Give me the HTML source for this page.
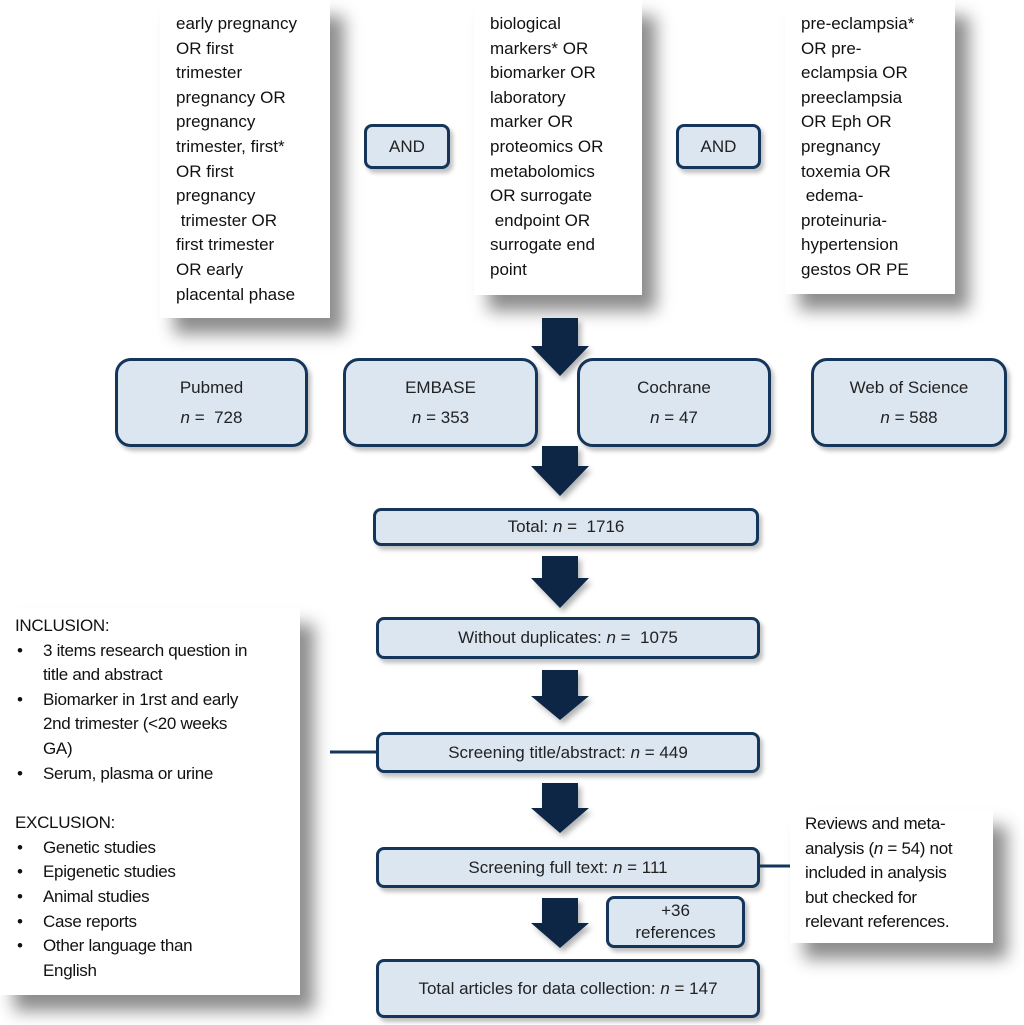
<!DOCTYPE html>
<html><head><style>
body{margin:0;width:1024px;height:1025px;background:#fff;position:relative;overflow:hidden;font-family:"Liberation Sans",sans-serif;color:#111}
.tb{position:absolute;background:#fff;box-shadow:14px 16px 16px rgba(0,0,0,0.45);font-size:17px;line-height:24.6px;white-space:pre;box-sizing:border-box}
.bx{position:absolute;background:#dce6f1;border:3px solid #14365a;box-sizing:border-box;display:flex;align-items:center;justify-content:center;text-align:center;font-size:17px;color:#222;box-shadow:3px 4px 4px rgba(0,0,0,0.25)}
.db{border-radius:16px;flex-direction:column;line-height:30px;font-size:17px}
.r{border-radius:8px}
svg{position:absolute;left:0;top:0}
.n{font-style:italic}
.cond{font-size:17px;letter-spacing:-0.3px;white-space:nowrap}
.cond div{min-height:24.7px}
.li{position:relative;padding-left:28px}
.li:before{content:"•";position:absolute;left:2px}
</style></head><body>
<div class="tb" style="left:160px;top:0;width:170px;height:318px;padding:12px 0 0 16px">early pregnancy
OR first
trimester
pregnancy OR
pregnancy
trimester, first*
OR first
pregnancy
 trimester OR
first trimester
OR early
placental phase</div>
<div class="tb" style="left:474px;top:0;width:168px;height:295px;padding:12px 0 0 16px">biological
markers* OR
biomarker OR
laboratory
marker OR
proteomics OR
metabolomics
OR surrogate
 endpoint OR
surrogate end
point</div>
<div class="tb" style="left:785px;top:0;width:170px;height:294px;padding:12px 0 0 16px">pre-eclampsia*
OR pre-
eclampsia OR
preeclampsia
OR Eph OR
pregnancy
toxemia OR
 edema-
proteinuria-
hypertension
gestos OR PE</div>
<div class="bx r" style="left:364px;top:124px;width:86px;height:45px">AND</div>
<div class="bx r" style="left:676px;top:124px;width:85px;height:45px">AND</div>

<div class="bx db" style="left:115px;top:358px;width:193px;height:89px"><div>Pubmed</div><div><span class="n">n</span> =&nbsp; 728</div></div>
<div class="bx db" style="left:343px;top:358px;width:195px;height:89px"><div>EMBASE</div><div><span class="n">n</span> = 353</div></div>
<div class="bx db" style="left:577px;top:358px;width:194px;height:89px"><div>Cochrane</div><div><span class="n">n</span> = 47</div></div>
<div class="bx db" style="left:811px;top:358px;width:196px;height:89px"><div>Web of Science</div><div><span class="n">n</span> = 588</div></div>

<div class="bx r" style="left:373px;top:508px;width:386px;height:38px">Total: <span class="n">&nbsp;n</span>&nbsp;=&nbsp; 1716</div>
<div class="bx r" style="left:376px;top:617px;width:384px;height:42px">Without duplicates: <span class="n">&nbsp;n</span>&nbsp;=&nbsp; 1075</div>
<div class="bx r" style="left:376px;top:732px;width:384px;height:41px">Screening title/abstract: <span class="n">&nbsp;n</span>&nbsp;= 449</div>
<div class="bx r" style="left:376px;top:847px;width:384px;height:41px">Screening full text: <span class="n">&nbsp;n</span>&nbsp;= 111</div>
<div class="bx r" style="left:606px;top:896px;width:139px;height:52px;line-height:22px">+36<br>references</div>
<div class="bx r" style="left:376px;top:959px;width:384px;height:59px">Total articles for data collection: <span class="n">&nbsp;n</span>&nbsp;= 147</div>

<div class="tb cond" style="left:0;top:608px;width:300px;height:387px;padding:6px 0 0 15px">
<div>INCLUSION:</div>
<div class="li">3 items research question in<br>title and abstract</div>
<div class="li">Biomarker in 1rst and early<br>2nd trimester (&lt;20 weeks<br>GA)</div>
<div class="li">Serum, plasma or urine</div>
<div></div>
<div>EXCLUSION:</div>
<div class="li">Genetic studies</div>
<div class="li">Epigenetic studies</div>
<div class="li">Animal studies</div>
<div class="li">Case reports</div>
<div class="li">Other language than<br>English</div>
</div>
<div class="tb cond" style="left:790px;top:810px;width:203px;height:133px;padding:2px 0 0 15px;line-height:24.6px">Reviews and meta-<br>analysis (<i>n</i> = 54) not<br>included in analysis<br>but checked for<br>relevant references.</div>

<svg width="1024" height="1025">
<defs><filter id="s"><feDropShadow dx="3" dy="4" stdDeviation="3" flood-opacity="0.3"/></filter></defs>
<g fill="#0d2744" filter="url(#s)">
<polygon points="542,318 578,318 578,346 589,346 560,376 531,346 542,346"/>
<polygon points="542,446 578,446 578,466 589,466 560,496 531,466 542,466"/>
<polygon points="542,556 578,556 578,578 589,578 560,608 531,578 542,578"/>
<polygon points="542,670 578,670 578,696 589,696 560,720 531,696 542,696"/>
<polygon points="542,783 578,783 578,808 589,808 560,833 531,808 542,808"/>
<polygon points="542,898 578,898 578,923 589,923 560,948 531,923 542,923"/>
</g>
<line x1="330" y1="752" x2="376" y2="752" stroke="#14365a" stroke-width="3"/>
<line x1="760" y1="866" x2="790" y2="866" stroke="#14365a" stroke-width="3"/>
</svg>
</body></html>
